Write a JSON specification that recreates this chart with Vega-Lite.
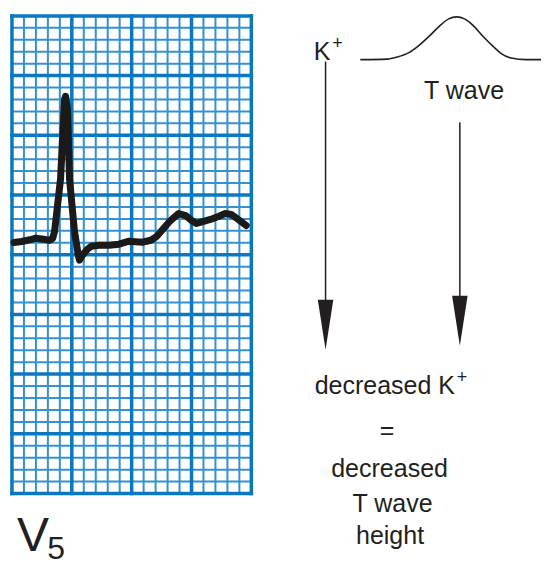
{
  "$schema": "https://vega.github.io/schema/vega-lite/v6.json",
  "width": 545,
  "height": 565,
  "autosize": {"type": "fit", "contains": "padding"},
  "padding": 0,
  "background": "white",
  "config": {"view": {"stroke": null}},
  "datasets": {
    "vminor": [{"pos":1},{"pos":2},{"pos":3},{"pos":4},{"pos":6},{"pos":7},{"pos":8},{"pos":9},{"pos":11},{"pos":12},{"pos":13},{"pos":14},{"pos":16},{"pos":17},{"pos":18},{"pos":19}],
    "vmajor": [{"pos":0},{"pos":5},{"pos":10},{"pos":15},{"pos":20}],
    "hminor": [{"pos":1},{"pos":2},{"pos":3},{"pos":4},{"pos":6},{"pos":7},{"pos":8},{"pos":9},{"pos":11},{"pos":12},{"pos":13},{"pos":14},{"pos":16},{"pos":17},{"pos":18},{"pos":19},{"pos":21},{"pos":22},{"pos":23},{"pos":24},{"pos":26},{"pos":27},{"pos":28},{"pos":29},{"pos":31},{"pos":32},{"pos":33},{"pos":34},{"pos":36},{"pos":37},{"pos":38},{"pos":39}],
    "hmajor": [{"pos":0},{"pos":5},{"pos":10},{"pos":15},{"pos":20},{"pos":25},{"pos":30},{"pos":35},{"pos":40}],
    "ecg": [
      {"i":0,"x":0.16,"y":21.03},{"i":1,"x":0.82,"y":21.11},{"i":2,"x":1.49,"y":21.25},{"i":3,"x":1.99,"y":21.38},
      {"i":4,"x":2.65,"y":21.30},{"i":5,"x":3.1,"y":21.2},{"i":6,"x":3.40,"y":21.37},{"i":7,"x":3.56,"y":21.95},
      {"i":8,"x":4.06,"y":26.36},{"i":9,"x":4.31,"y":31.35},{"i":10,"x":4.39,"y":33.02},{"i":11,"x":4.48,"y":33.27},
      {"i":12,"x":4.64,"y":32.19},{"i":13,"x":4.81,"y":26.36},{"i":14,"x":5.22,"y":21.95},{"i":15,"x":5.56,"y":19.87},
      {"i":16,"x":5.64,"y":19.54},{"i":17,"x":5.89,"y":19.96},{"i":18,"x":6.30,"y":20.46},{"i":19,"x":6.63,"y":20.71},
      {"i":20,"x":7.29,"y":20.79},{"i":21,"x":8.12,"y":20.79},{"i":22,"x":8.95,"y":20.88},{"i":23,"x":9.78,"y":21.13},
      {"i":24,"x":10.86,"y":21.04},{"i":25,"x":11.61,"y":21.21},{"i":26,"x":12.10,"y":21.54},{"i":27,"x":12.68,"y":22.21},
      {"i":28,"x":13.26,"y":22.88},{"i":29,"x":13.93,"y":23.45},{"i":30,"x":14.51,"y":23.28},{"i":31,"x":15.01,"y":22.87},
      {"i":32,"x":15.42,"y":22.62},{"i":33,"x":16.01,"y":22.79},{"i":34,"x":16.58,"y":22.95},{"i":35,"x":17.25,"y":23.20},
      {"i":36,"x":17.82,"y":23.45},{"i":37,"x":18.32,"y":23.37},{"i":38,"x":18.91,"y":22.95},{"i":39,"x":19.57,"y":22.45}
    ],
    "twave": [
      {"i":0,"x":29.10,"y":36.34},{"i":1,"x":31.34,"y":36.38},{"i":2,"x":32.17,"y":36.55},{"i":3,"x":33.17,"y":36.92},
      {"i":4,"x":33.99,"y":37.51},{"i":5,"x":34.91,"y":38.34},{"i":6,"x":35.74,"y":39.17},{"i":7,"x":36.49,"y":39.75},
      {"i":8,"x":37.15,"y":39.92},{"i":9,"x":37.81,"y":39.75},{"i":10,"x":38.56,"y":39.17},{"i":11,"x":39.39,"y":38.25},
      {"i":12,"x":40.22,"y":37.42},{"i":13,"x":40.88,"y":36.84},{"i":14,"x":41.71,"y":36.47},{"i":15,"x":42.95,"y":36.34},
      {"i":16,"x":44.20,"y":36.34}
    ],
    "shafts": [{"x":26.20,"y":36.17,"y2":16.21},{"x":37.42,"y":31.10,"y2":16.54}],
    "heads": [{"x":26.20,"y":14.14},{"x":37.42,"y":14.47}],
    "textLeft": [{"t":"K","x":25.21,"y":36.34},{"t":"decreased K","x":25.29,"y":8.32}],
    "textCenter": [{"t":"T wave","x":37.77,"y":33.02},{"t":"=","x":31.34,"y":4.58},{"t":"decreased","x":31.55,"y":1.42},{"t":"T wave","x":31.80,"y":-1.58},{"t":"height","x":31.59,"y":-4.24}],
    "sup": [{"t":"+","x":27.2,"y":37.26},{"t":"+","x":37.6,"y":9.23}],
    "lead": [{"t":"V","x":0.41,"y":-4.82}],
    "leadSub": [{"t":"5","x":2.95,"y":-5.48}]
  },
  "layer": [
    {
      "data": {"name": "vminor"},
      "mark": {"type": "rule", "stroke": "#3591cf", "strokeWidth": 2},
      "encoding": {
        "x": {"field": "pos", "type": "quantitative", "scale": {"domain": [-1, 44.2], "nice": false, "zero": false}, "axis": null},
        "y": {"datum": 0, "type": "quantitative", "scale": {"domain": [-5.65, 41.33], "nice": false, "zero": false}, "axis": null},
        "y2": {"datum": 40}
      }
    },
    {
      "data": {"name": "hminor"},
      "mark": {"type": "rule", "stroke": "#3591cf", "strokeWidth": 2},
      "encoding": {
        "y": {"field": "pos", "type": "quantitative", "scale": {"domain": [-5.65, 41.33], "nice": false, "zero": false}, "axis": null},
        "x": {"datum": 0, "type": "quantitative", "scale": {"domain": [-1, 44.2], "nice": false, "zero": false}, "axis": null},
        "x2": {"datum": 20}
      }
    },
    {
      "data": {"name": "vmajor"},
      "mark": {"type": "rule", "stroke": "#0a78c0", "strokeWidth": 3.5, "strokeCap": "square"},
      "encoding": {
        "x": {"field": "pos", "type": "quantitative", "scale": {"domain": [-1, 44.2], "nice": false, "zero": false}, "axis": null},
        "y": {"datum": 0, "type": "quantitative", "scale": {"domain": [-5.65, 41.33], "nice": false, "zero": false}, "axis": null},
        "y2": {"datum": 40}
      }
    },
    {
      "data": {"name": "hmajor"},
      "mark": {"type": "rule", "stroke": "#0a78c0", "strokeWidth": 3.5, "strokeCap": "square"},
      "encoding": {
        "y": {"field": "pos", "type": "quantitative", "scale": {"domain": [-5.65, 41.33], "nice": false, "zero": false}, "axis": null},
        "x": {"datum": 0, "type": "quantitative", "scale": {"domain": [-1, 44.2], "nice": false, "zero": false}, "axis": null},
        "x2": {"datum": 20}
      }
    },
    {
      "data": {"name": "ecg"},
      "mark": {"type": "line", "stroke": "#1a1a1a", "strokeWidth": 7, "strokeCap": "round", "strokeJoin": "round", "interpolate": "linear"},
      "encoding": {
        "x": {"field": "x", "type": "quantitative", "scale": {"domain": [-1, 44.2], "nice": false, "zero": false}, "axis": null},
        "y": {"field": "y", "type": "quantitative", "scale": {"domain": [-5.65, 41.33], "nice": false, "zero": false}, "axis": null},
        "order": {"field": "i"}
      }
    },
    {
      "data": {"name": "twave"},
      "mark": {"type": "line", "stroke": "#231f20", "strokeWidth": 1.6, "interpolate": "monotone"},
      "encoding": {
        "x": {"field": "x", "type": "quantitative", "scale": {"domain": [-1, 44.2], "nice": false, "zero": false}, "axis": null},
        "y": {"field": "y", "type": "quantitative", "scale": {"domain": [-5.65, 41.33], "nice": false, "zero": false}, "axis": null},
        "order": {"field": "i"}
      }
    },
    {
      "data": {"name": "shafts"},
      "mark": {"type": "rule", "stroke": "#231f20", "strokeWidth": 1.5},
      "encoding": {
        "x": {"field": "x", "type": "quantitative", "scale": {"domain": [-1, 44.2], "nice": false, "zero": false}, "axis": null},
        "y": {"field": "y", "type": "quantitative", "scale": {"domain": [-5.65, 41.33], "nice": false, "zero": false}, "axis": null},
        "y2": {"field": "y2"}
      }
    },
    {
      "data": {"name": "heads"},
      "mark": {"type": "point", "shape": "M-0.31,-1L0.31,-1L0,1Z", "size": 2500, "filled": true, "fill": "#231f20", "opacity": 1, "strokeWidth": 0},
      "encoding": {
        "x": {"field": "x", "type": "quantitative", "scale": {"domain": [-1, 44.2], "nice": false, "zero": false}, "axis": null},
        "y": {"field": "y", "type": "quantitative", "scale": {"domain": [-5.65, 41.33], "nice": false, "zero": false}, "axis": null}
      }
    },
    {
      "data": {"name": "textLeft"},
      "mark": {"type": "text", "font": "Liberation Sans", "fontSize": 25, "align": "left", "baseline": "alphabetic", "fill": "#231f20"},
      "encoding": {
        "x": {"field": "x", "type": "quantitative", "scale": {"domain": [-1, 44.2], "nice": false, "zero": false}, "axis": null},
        "y": {"field": "y", "type": "quantitative", "scale": {"domain": [-5.65, 41.33], "nice": false, "zero": false}, "axis": null},
        "text": {"field": "t"}
      }
    },
    {
      "data": {"name": "textCenter"},
      "mark": {"type": "text", "font": "Liberation Sans", "fontSize": 25, "align": "center", "baseline": "alphabetic", "fill": "#231f20"},
      "encoding": {
        "x": {"field": "x", "type": "quantitative", "scale": {"domain": [-1, 44.2], "nice": false, "zero": false}, "axis": null},
        "y": {"field": "y", "type": "quantitative", "scale": {"domain": [-5.65, 41.33], "nice": false, "zero": false}, "axis": null},
        "text": {"field": "t"}
      }
    },
    {
      "data": {"name": "sup"},
      "mark": {"type": "text", "font": "Liberation Sans", "fontSize": 18, "align": "center", "baseline": "alphabetic", "fill": "#231f20"},
      "encoding": {
        "x": {"field": "x", "type": "quantitative", "scale": {"domain": [-1, 44.2], "nice": false, "zero": false}, "axis": null},
        "y": {"field": "y", "type": "quantitative", "scale": {"domain": [-5.65, 41.33], "nice": false, "zero": false}, "axis": null},
        "text": {"field": "t"}
      }
    },
    {
      "data": {"name": "lead"},
      "mark": {"type": "text", "font": "Liberation Sans", "fontSize": 48, "align": "left", "baseline": "alphabetic", "fill": "#231f20"},
      "encoding": {
        "x": {"field": "x", "type": "quantitative", "scale": {"domain": [-1, 44.2], "nice": false, "zero": false}, "axis": null},
        "y": {"field": "y", "type": "quantitative", "scale": {"domain": [-5.65, 41.33], "nice": false, "zero": false}, "axis": null},
        "text": {"field": "t"}
      }
    },
    {
      "data": {"name": "leadSub"},
      "mark": {"type": "text", "font": "Liberation Sans", "fontSize": 32, "align": "left", "baseline": "alphabetic", "fill": "#231f20"},
      "encoding": {
        "x": {"field": "x", "type": "quantitative", "scale": {"domain": [-1, 44.2], "nice": false, "zero": false}, "axis": null},
        "y": {"field": "y", "type": "quantitative", "scale": {"domain": [-5.65, 41.33], "nice": false, "zero": false}, "axis": null},
        "text": {"field": "t"}
      }
    }
  ]
}
